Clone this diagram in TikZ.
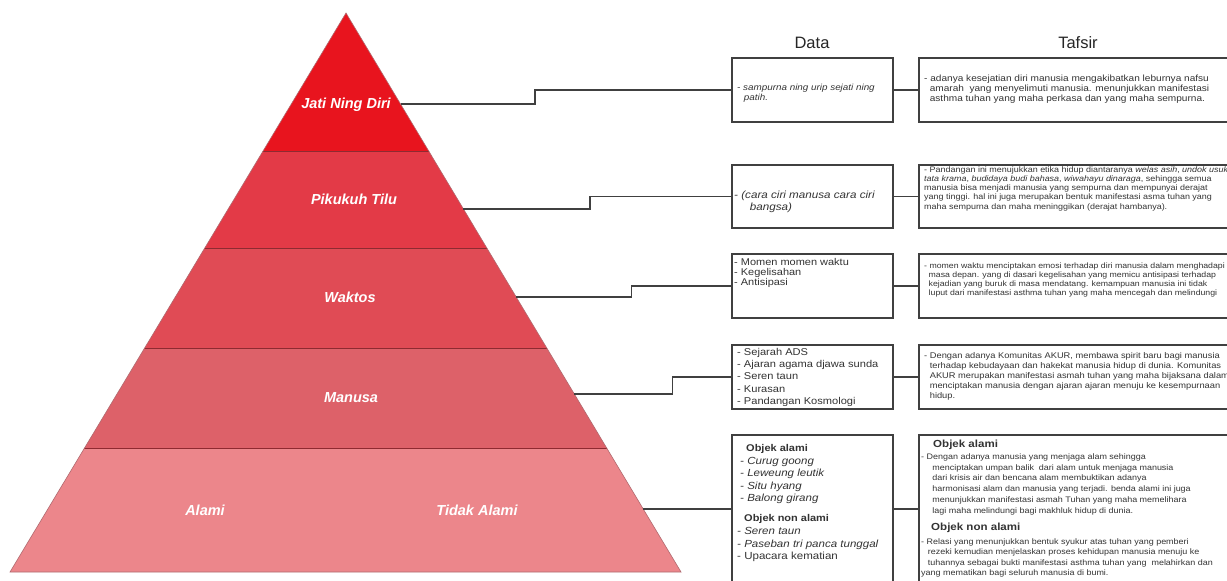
\documentclass[tikz,border=0pt]{standalone}
\usepackage{fontspec}
\setmainfont{Liberation Sans}
\usetikzlibrary{calc}
\definecolor{bandA}{HTML}{E8141E}
\definecolor{bandB}{HTML}{E33A47}
\definecolor{bandC}{HTML}{E04B55}
\definecolor{bandD}{HTML}{DD6169}
\definecolor{bandE}{HTML}{EC868B}
\definecolor{bandline}{HTML}{8E2A31}
\newcommand{\txtsize}[2]{\fontsize{#1}{#2}\selectfont}

\begin{document}
\begin{tikzpicture}[x=1pt, y=-1pt,
    band/.style={text=white, font=\txtsize{14.5}{16}\bfseries\itshape, anchor=base},
    link/.style={draw=black!75, line width=1.1pt},
    databox/.style={draw=black!75, line width=1.3pt, minimum width=161pt, inner sep=0pt},
    tafsirbox/.style={draw=black!75, line width=1.3pt, minimum width=326pt, inner sep=0pt},
    txt/.style={inner sep=0pt, anchor=north west, align=left, xscale=1.12, text=black!80},
    head/.style={font=\txtsize{16.5}{18}, text=black!85}]
  \path[use as bounding box, clip] (0,0) rectangle (1227,581);
  \fill[white] (0,0) rectangle (1227,581);

  % pyramid
  \coordinate (top) at (346,13);
  \coordinate (bl) at (10,572);
  \coordinate (br) at (681,572);
  \begin{scope}
    \clip (top) -- (bl) -- (br) -- cycle;
    \fill[bandA] (0,0) rectangle (700,151);
    \fill[bandB] (0,151) rectangle (700,248);
    \fill[bandC] (0,248) rectangle (700,348);
    \fill[bandD] (0,348) rectangle (700,448);
    \fill[bandE] (0,448) rectangle (700,600);
    \foreach \y in {151,248,348,448}
      \draw[bandline, line width=0.8pt] (0,\y) -- (700,\y);
  \end{scope}
  \draw[bandline!70, line width=0.6pt] (top) -- (bl) -- (br) -- cycle;

  \node[band] (jati) at (346,108) {Jati Ning Diri};
  \node[band] (pikukuh) at (354,204) {Pikukuh Tilu};
  \node[band] (waktos) at (350,302) {Waktos};
  \node[band] (manusa) at (351,402) {Manusa};
  \node[band] (alami) at (205,515) {Alami};
  \node[band] (tidak) at (477,515) {Tidak Alami};

  % titles
  \node[head] (data) at (812,42.5) {Data};
  \node[head] (tafsir) at (1078,42.5) {Tafsir};

  % boxes
  \node[databox, minimum height=64pt] (d1) at (812.5,90) {};
  \node[tafsirbox, minimum height=64pt] (t1) at (1082,90) {};
  \node[databox, minimum height=63pt] (d2) at (812.5,196.5) {};
  \node[tafsirbox, minimum height=63pt] (t2) at (1082,196.5) {};
  \node[databox, minimum height=64pt] (d3) at (812.5,286) {};
  \node[tafsirbox, minimum height=64pt] (t3) at (1082,286) {};
  \node[databox, minimum height=64pt] (d4) at (812.5,377) {};
  \node[tafsirbox, minimum height=64pt] (t4) at (1082,377) {};
  \node[databox, minimum height=165pt] (d5) at (812.5,517.5) {};
  \node[tafsirbox, minimum height=165pt] (t5) at (1082,517.5) {};

  % data texts
  \node[txt, font=\txtsize{8.8}{10}\itshape] (d1txt) at (737,83.9)
    {- sampurna ning urip sejati ning\\\hspace{6pt}patih.};
  \node[txt, font=\txtsize{10.4}{11.7}\itshape] (d2txt) at (734,191.1)
    {- (cara ciri manusa cara ciri\\\hspace{14pt}bangsa)};
  \node[txt, font=\txtsize{9.8}{10}] (d3txt) at (734,258.4)
    {- Momen momen waktu\\- Kegelisahan\\- Antisipasi};
  \node[txt, font=\txtsize{9.9}{12.3}] (d4txt) at (737,348)
    {- Sejarah ADS\\- Ajaran agama djawa sunda\\- Seren taun\\- Kurasan\\- Pandangan Kosmologi};
  \node[txt, font=\txtsize{9.8}{11}\bfseries] (d5head) at (746,444.4) {Objek alami};
  \node[txt, font=\txtsize{10.3}{12.3}\itshape] (d5txt) at (740,457.2)
    {- Curug goong\\- Leweung leutik\\- Situ hyang\\- Balong girang};
  \node[txt, font=\txtsize{9.8}{11}\bfseries] (d5headb) at (744,514.4) {Objek non alami};
  \node[txt, font=\txtsize{10.3}{12.5}\itshape] (d5txtb) at (737,527.2)
    {- Seren taun\\- Paseban tri panca tunggal\\\upshape - Upacara kematian};

  % tafsir texts
  \node[txt, font=\txtsize{9}{10}] (t1txt) at (924,74.8)
    {- adanya kesejatian diri manusia mengakibatkan leburnya nafsu\\
     \hspace{5pt}amarah\ \ yang menyelimuti manusia. menunjukkan manifestasi\\
     \hspace{5pt}asthma tuhan yang maha perkasa dan yang maha sempurna.};
  \node[txt, font=\txtsize{8}{9.2}] (t2txt) at (924,166.2)
    {- Pandangan ini menujukkan etika hidup diantaranya \textit{welas asih}, \textit{undok usuk}\\
     \textit{tata krama}, \textit{budidaya budi bahasa}, \textit{wiwahayu dinaraga}, sehingga semua\\
     manusia bisa menjadi manusia yang sempurna dan mempunyai derajat\\
     yang tinggi. hal ini juga merupakan bentuk manifestasi asma tuhan yang\\
     maha sempurna dan maha meninggikan (derajat hambanya).};
  \node[txt, font=\txtsize{7.8}{9}] (t3txt) at (924,262.3)
    {- momen waktu menciptakan emosi terhadap diri manusia dalam menghadapi\\
     \hspace{4pt}masa depan. yang di dasari kegelisahan yang memicu antisipasi terhadap\\
     \hspace{4pt}kejadian yang buruk di masa mendatang. kemampuan manusia ini tidak\\
     \hspace{4pt}luput dari manifestasi asthma tuhan yang maha mencegah dan melindungi};
  \node[txt, font=\txtsize{8.3}{10}] (t4txt) at (924,352)
    {- Dengan adanya Komunitas AKUR, membawa spirit baru bagi manusia\\
     \hspace{5pt}terhadap kebudayaan dan hakekat manusia hidup di dunia. Komunitas\\
     \hspace{5pt}AKUR merupakan manifestasi asmah tuhan yang maha bijaksana dalam\\
     \hspace{5pt}menciptakan manusia dengan ajaran ajaran menuju ke kesempurnaan\\
     \hspace{5pt}hidup.};
  \node[txt, font=\txtsize{10.3}{11}\bfseries] (t5head) at (933,440.2) {Objek alami};
  \node[txt, font=\txtsize{8}{10.8}] (t5txt) at (921,453.2)
    {- Dengan adanya manusia yang menjaga alam sehingga\\
     \hspace{10pt}menciptakan umpan balik\ \ dari alam untuk menjaga manusia\\
     \hspace{10pt}dari krisis air dan bencana alam membuktikan adanya\\
     \hspace{10pt}harmonisasi alam dan manusia yang terjadi. benda alami ini juga\\
     \hspace{10pt}menunjukkan manifestasi asmah Tuhan yang maha memelihara\\
     \hspace{10pt}lagi maha melindungi bagi makhluk hidup di dunia.};
  \node[txt, font=\txtsize{10.3}{11}\bfseries] (t5headb) at (931,523) {Objek non alami};
  \node[txt, font=\txtsize{8}{10.5}] (t5txtb) at (921,538.2)
    {- Relasi yang menunjukkan bentuk syukur atas tuhan yang pemberi\\
     \hspace{6pt}rezeki kemudian menjelaskan proses kehidupan manusia menuju ke\\
     \hspace{6pt}tuhannya sebagai bukti manifestasi asthma tuhan yang\ \ melahirkan dan\\
     yang mematikan bagi seluruh manusia di bumi.};

  % connectors
  \coordinate (e1) at ($(top)!0.1628!(br)$);
  \coordinate (e2) at ($(top)!0.3506!(br)$);
  \coordinate (e3) at ($(top)!0.5081!(br)$);
  \coordinate (e4) at ($(top)!0.6816!(br)$);
  \coordinate (e5) at ($(top)!0.8873!(br)$);
  \draw[link] (e1) -- ++(134.5,0) |- (d1.west);
  \draw[link] (e2) -- ++(126.5,0) |- (d2.west);
  \draw[link] (e3) -- ++(115,0) |- (d3.west);
  \draw[link] (e4) -- ++(98,0) |- (d4.west);
  \draw[link] (e5) -- (e5 -| d5.west);
  \draw[link] (d1.east) -- (d1.east -| t1.west);
  \draw[link] (d2.east) -- (d2.east -| t2.west);
  \draw[link] (d3.east) -- (d3.east -| t3.west);
  \draw[link] (d4.east) -- (d4.east -| t4.west);
  \draw[link] (e5 -| d5.east) -- (e5 -| t5.west);
\end{tikzpicture}
\end{document}
